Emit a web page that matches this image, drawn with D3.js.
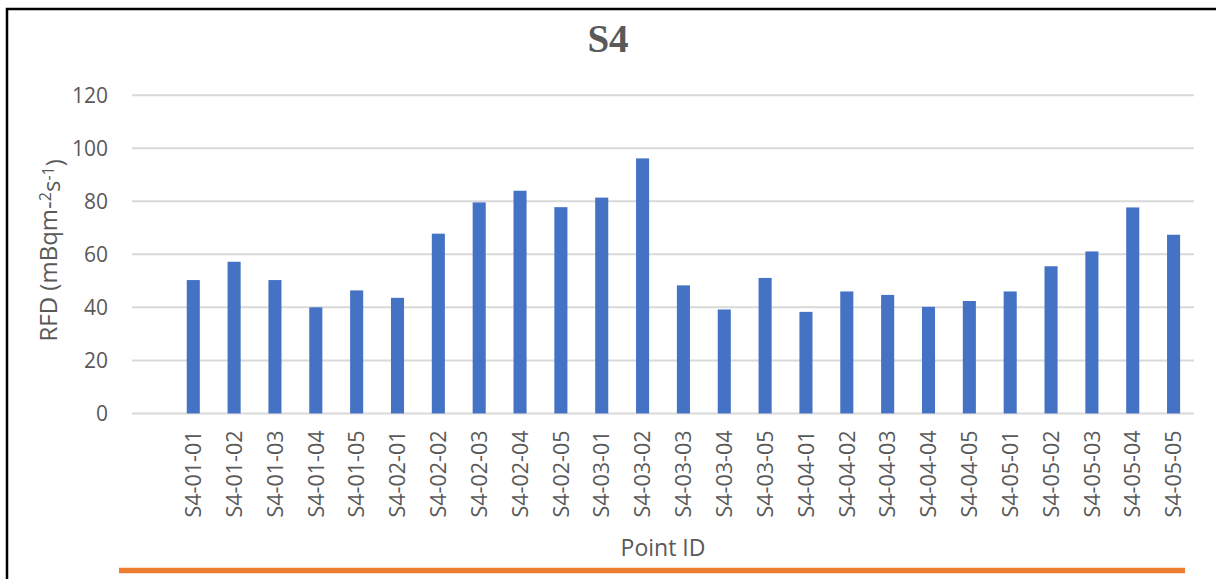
<!DOCTYPE html>
<html>
<head>
<meta charset="utf-8">
<script src="https://cdn.jsdelivr.net/npm/d3@7"></script>
<style>
  body { margin: 0; background: #fff; }
  svg { display: block; }
</style>
</head>
<body>
<svg id="chart" width="1216" height="579"></svg>
<script>
// chart values
const pointIds = [
    "S4-01-01", "S4-01-02", "S4-01-03", "S4-01-04", "S4-01-05",
    "S4-02-01", "S4-02-02", "S4-02-03", "S4-02-04", "S4-02-05",
    "S4-03-01", "S4-03-02", "S4-03-03", "S4-03-04", "S4-03-05",
    "S4-04-01", "S4-04-02", "S4-04-03", "S4-04-04", "S4-04-05",
    "S4-05-01", "S4-05-02", "S4-05-03", "S4-05-04", "S4-05-05"
];
const rfdValues = [
    50.3, 57.2, 50.3, 40.0, 46.4,
    43.6, 67.8, 79.6, 84.0, 77.8,
    81.4, 96.2, 48.3, 39.2, 51.1,
    38.3, 46.0, 44.7, 40.2, 42.4,
    46.0, 55.5, 61.1, 77.7, 67.4
];
const yTicks = [0, 20, 40, 60, 80, 100, 120];

let svg = d3.select("#chart");
let width = 1216;
let plotLeft = 132, plotRight = 1194, plotTop = 95.3, plotBottom = 413.4;
let tickFont = "'Open Sans', sans-serif";

// the category axis keeps an empty slot before the first point, like the original
let xScale = d3.scaleBand()
               .domain([""].concat(pointIds))
               .range([plotLeft, plotRight])
               .paddingInner(0.68)
               .paddingOuter(0.34);

let yScale = d3.scaleLinear()
               .domain([0, 120])
               .range([plotBottom, plotTop]);

// frame: black line on top and left
svg.append("path")
   .attr("d", "M7 579 L7 9 L" + width + " 9")
   .attr("fill", "none")
   .attr("stroke", "#000")
   .attr("stroke-width", 2.5);

// gridlines
svg.append("g")
   .selectAll("line")
   .data(yTicks)
   .enter().append("line")
   .attr("x1", plotLeft)
   .attr("x2", plotRight)
   .attr("y1", d => yScale(d))
   .attr("y2", d => yScale(d))
   .attr("stroke", "#d9d9d9")
   .attr("stroke-width", 2);

// y axis labels
let yAxis = d3.axisLeft(yScale).tickValues(yTicks).tickSize(0).tickPadding(24);
svg.append("g")
   .attr("transform", "translate(" + plotLeft + ",0)")
   .call(yAxis)
   .call(g => g.select(".domain").remove())
   .selectAll("text")
   .attr("fill", "#595959")
   .style("font-family", tickFont)
   .style("font-size", "21px");

// bars
svg.append("g")
   .selectAll("rect")
   .data(pointIds)
   .enter().append("rect")
   .attr("x", d => xScale(d))
   .attr("y", (d, i) => yScale(rfdValues[i]))
   .attr("width", xScale.bandwidth())
   .attr("height", (d, i) => plotBottom - yScale(rfdValues[i]))
   .attr("fill", "#4472c4");

// x axis labels, rotated
let xAxis = d3.axisBottom(xScale).tickValues(pointIds).tickSize(0);
svg.append("g")
   .attr("transform", "translate(0," + plotBottom + ")")
   .call(xAxis)
   .call(g => g.select(".domain").remove())
   .selectAll("text")
   .attr("fill", "#595959")
   .style("font-family", tickFont)
   .style("font-size", "21.5px")
   .attr("text-anchor", "end")
   .attr("transform", "rotate(-90)")
   .attr("x", -17)
   .attr("y", 0)
   .attr("dy", "0.36em");

// title
svg.append("text")
   .attr("x", width / 2)
   .attr("y", 52)
   .attr("text-anchor", "middle")
   .attr("fill", "#595959")
   .style("font-family", "'Liberation Serif', 'Times New Roman', serif")
   .style("font-weight", "bold")
   .style("font-size", "39px")
   .text("S4");

// axis titles
svg.append("text")
   .attr("x", (plotLeft + plotRight) / 2)
   .attr("y", 556)
   .attr("text-anchor", "middle")
   .attr("fill", "#595959")
   .style("font-family", tickFont)
   .style("font-size", "23px")
   .text("Point ID");

let yTitle = svg.append("text")
   .attr("transform", "translate(57," + ((plotTop + plotBottom) / 2 - 4) + ") rotate(-90)")
   .attr("text-anchor", "middle")
   .attr("fill", "#595959")
   .style("font-family", tickFont)
   .style("font-size", "24px");
yTitle.append("tspan").text("RFD (mBqm-");
yTitle.append("tspan").attr("dy", "-0.4em").style("font-size", "16px").text("2");
yTitle.append("tspan").attr("dy", "0.4em").text("s");
yTitle.append("tspan").attr("dy", "-0.4em").style("font-size", "16px").text("-1");
yTitle.append("tspan").attr("dy", "0.4em").text(")");

// orange rule under the chart
svg.append("line")
   .attr("x1", 119)
   .attr("x2", 1185)
   .attr("y1", 570.5)
   .attr("y2", 570.5)
   .attr("stroke", "#ed7d31")
   .attr("stroke-width", 5.5);
</script>
</body>
</html>
